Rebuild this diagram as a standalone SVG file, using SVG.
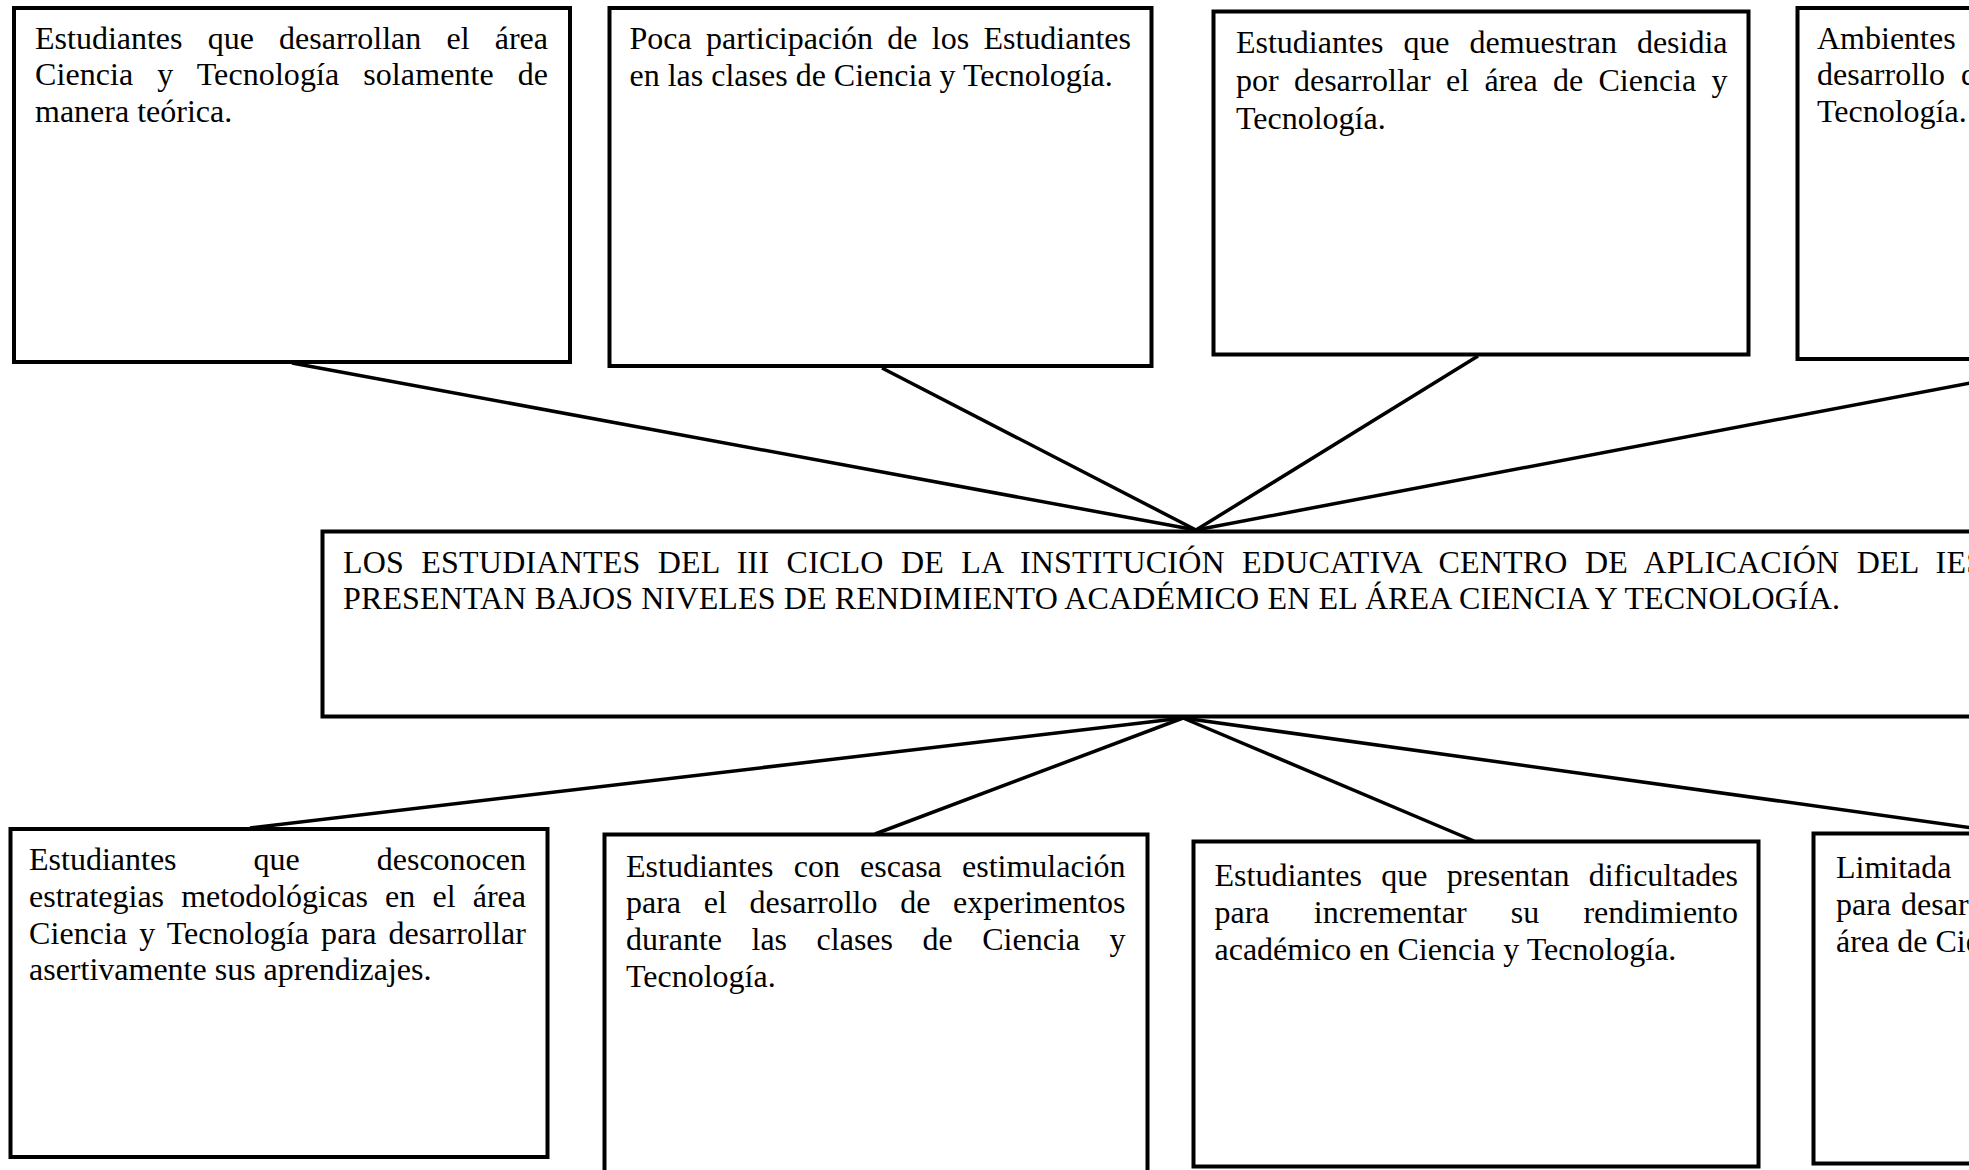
<svg xmlns="http://www.w3.org/2000/svg" width="1969" height="1170" viewBox="0 0 1969 1170">
<style>
.box{fill:#fff;stroke:#000;stroke-width:4}
.t{font-family:"Liberation Serif","Times New Roman",serif;font-size:32px;fill:#000}
.c{stroke:#000;stroke-width:3.5;fill:none;stroke-linecap:butt}
</style>
<rect width="1969" height="1170" fill="#fff"/>
<g id="connectors">
<line class="c" x1="292" y1="363" x2="1196" y2="530"/>
<line class="c" x1="882" y1="368" x2="1196" y2="530"/>
<line class="c" x1="1478" y1="356" x2="1196" y2="530"/>
<line class="c" x1="2091" y1="360" x2="1196" y2="530"/>
<line class="c" x1="1183" y1="718" x2="250" y2="828"/>
<line class="c" x1="1183" y1="718" x2="875" y2="834"/>
<line class="c" x1="1183" y1="718" x2="1474" y2="841"/>
<line class="c" x1="1183" y1="718" x2="2009" y2="833"/>
</g>
<g id="top1">
<rect class="box" x="14" y="8" width="556" height="354"/>
<text class="t" x="35" y="48.5" style="word-spacing:17.2px" textLength="513" lengthAdjust="spacing">Estudiantes que desarrollan el área</text>
<text class="t" x="35" y="85.3" style="word-spacing:15.8px" textLength="513" lengthAdjust="spacing">Ciencia y Tecnología solamente de</text>
<text class="t" x="35" y="122.1">manera teórica.</text>
</g>
<g id="top2">
<rect class="box" x="609.5" y="8" width="542" height="358"/>
<text class="t" x="629.5" y="49" style="word-spacing:6.3px" textLength="501.5" lengthAdjust="spacing">Poca participación de los Estudiantes</text>
<text class="t" x="629.5" y="85.8">en las clases de Ciencia y Tecnología.</text>
</g>
<g id="top3">
<rect class="box" x="1213.5" y="11.5" width="535" height="343"/>
<text class="t" x="1236" y="53" style="word-spacing:12px" textLength="491.5" lengthAdjust="spacing">Estudiantes que demuestran desidia</text>
<text class="t" x="1236" y="91" style="word-spacing:7.4px" textLength="491.5" lengthAdjust="spacing">por desarrollar el área de Ciencia y</text>
<text class="t" x="1236" y="129">Tecnología.</text>
</g>
<g id="top4">
<rect class="box" x="1797.5" y="8" width="300" height="351"/>
<text class="t" x="1817" y="48.5">Ambientes</text>
<text class="t" x="1817" y="85.3">desarrollo<tspan x="1961">d</tspan></text>
<text class="t" x="1817" y="122.1">Tecnología.</text>
</g>
<g id="center">
<rect class="box" x="322.5" y="531.5" width="1800" height="185"/>
<text class="t" x="343" y="572.5" style="word-spacing:9.1px" textLength="1641" lengthAdjust="spacing">LOS ESTUDIANTES DEL III CICLO DE LA INSTITUCIÓN EDUCATIVA CENTRO DE APLICACIÓN DEL IES</text>
<text class="t" x="343" y="609.3" textLength="1497" lengthAdjust="spacing">PRESENTAN BAJOS NIVELES DE RENDIMIENTO ACADÉMICO EN EL ÁREA CIENCIA Y TECNOLOGÍA.</text>
</g>
<g id="bottom1">
<rect class="box" x="10.5" y="829" width="537" height="328"/>
<text class="t" x="29" y="870" style="word-spacing:69px" textLength="497" lengthAdjust="spacing">Estudiantes que desconocen</text>
<text class="t" x="29" y="906.8" style="word-spacing:9.2px" textLength="497" lengthAdjust="spacing">estrategias metodológicas en el área</text>
<text class="t" x="29" y="943.6" style="word-spacing:3.85px" textLength="497" lengthAdjust="spacing">Ciencia y Tecnología para desarrollar</text>
<text class="t" x="29" y="980.4">asertivamente sus aprendizajes.</text>
</g>
<g id="bottom2">
<rect class="box" x="604.5" y="834.5" width="543" height="400"/>
<text class="t" x="626" y="876.5" style="word-spacing:12.2px" textLength="499.5" lengthAdjust="spacing">Estudiantes con escasa estimulación</text>
<text class="t" x="626" y="913.3" style="word-spacing:14.7px" textLength="499.5" lengthAdjust="spacing">para el desarrollo de experimentos</text>
<text class="t" x="626" y="950.1" style="word-spacing:21.5px" textLength="499.5" lengthAdjust="spacing">durante las clases de Ciencia y</text>
<text class="t" x="626" y="986.9">Tecnología.</text>
</g>
<g id="bottom3">
<rect class="box" x="1193.5" y="841.5" width="565" height="325"/>
<text class="t" x="1214.5" y="886" style="word-spacing:11.3px" textLength="523.5" lengthAdjust="spacing">Estudiantes que presentan dificultades</text>
<text class="t" x="1214.5" y="922.8" style="word-spacing:36.2px" textLength="523.5" lengthAdjust="spacing">para incrementar su rendimiento</text>
<text class="t" x="1214.5" y="959.6">académico en Ciencia y Tecnología.</text>
</g>
<g id="bottom4">
<rect class="box" x="1813.5" y="833.5" width="300" height="330"/>
<text class="t" x="1836" y="878">Limitada</text>
<text class="t" x="1836" y="914.8" style="word-spacing:2px">para desar</text>
<text class="t" x="1836" y="951.6">área de Cie</text>
</g>
</svg>
